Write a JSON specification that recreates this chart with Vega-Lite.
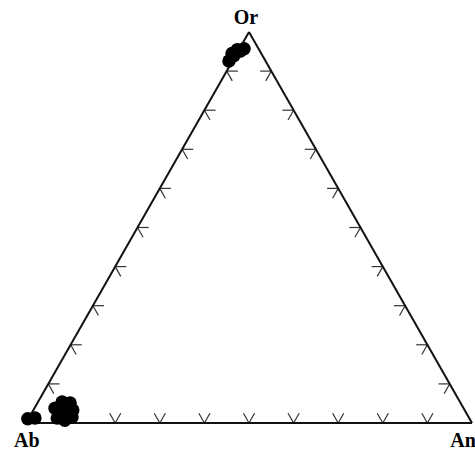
{
  "$schema": "https://vega.github.io/schema/vega-lite/v6.json",
  "width": 446,
  "height": 391,
  "autosize": {"type": "none"},
  "padding": {"left": 26, "top": 32, "right": 3, "bottom": 27},
  "background": "white",
  "config": {"view": {"stroke": null}},
  "datasets": {
    "edges": [
      {"x": 0, "y": 0, "x2": 1, "y2": 0},
      {"x": 1, "y": 0, "x2": 0.5, "y2": 1},
      {"x": 0.5, "y": 1, "x2": 0, "y2": 0}
    ],
    "ticks": [
      {"x": 0.1, "y": 0, "x2": 0.1125, "y2": 0.025}, {"x": 0.1, "y": 0, "x2": 0.0875, "y2": 0.025},
      {"x": 0.2, "y": 0, "x2": 0.2125, "y2": 0.025}, {"x": 0.2, "y": 0, "x2": 0.1875, "y2": 0.025},
      {"x": 0.3, "y": 0, "x2": 0.3125, "y2": 0.025}, {"x": 0.3, "y": 0, "x2": 0.2875, "y2": 0.025},
      {"x": 0.4, "y": 0, "x2": 0.4125, "y2": 0.025}, {"x": 0.4, "y": 0, "x2": 0.3875, "y2": 0.025},
      {"x": 0.5, "y": 0, "x2": 0.5125, "y2": 0.025}, {"x": 0.5, "y": 0, "x2": 0.4875, "y2": 0.025},
      {"x": 0.6, "y": 0, "x2": 0.6125, "y2": 0.025}, {"x": 0.6, "y": 0, "x2": 0.5875, "y2": 0.025},
      {"x": 0.7, "y": 0, "x2": 0.7125, "y2": 0.025}, {"x": 0.7, "y": 0, "x2": 0.6875, "y2": 0.025},
      {"x": 0.8, "y": 0, "x2": 0.8125, "y2": 0.025}, {"x": 0.8, "y": 0, "x2": 0.7875, "y2": 0.025},
      {"x": 0.9, "y": 0, "x2": 0.9125, "y2": 0.025}, {"x": 0.9, "y": 0, "x2": 0.8875, "y2": 0.025},
      {"x": 0.05, "y": 0.1, "x2": 0.075, "y2": 0.1}, {"x": 0.05, "y": 0.1, "x2": 0.0625, "y2": 0.075},
      {"x": 0.1, "y": 0.2, "x2": 0.125, "y2": 0.2}, {"x": 0.1, "y": 0.2, "x2": 0.1125, "y2": 0.175},
      {"x": 0.15, "y": 0.3, "x2": 0.175, "y2": 0.3}, {"x": 0.15, "y": 0.3, "x2": 0.1625, "y2": 0.275},
      {"x": 0.2, "y": 0.4, "x2": 0.225, "y2": 0.4}, {"x": 0.2, "y": 0.4, "x2": 0.2125, "y2": 0.375},
      {"x": 0.25, "y": 0.5, "x2": 0.275, "y2": 0.5}, {"x": 0.25, "y": 0.5, "x2": 0.2625, "y2": 0.475},
      {"x": 0.3, "y": 0.6, "x2": 0.325, "y2": 0.6}, {"x": 0.3, "y": 0.6, "x2": 0.3125, "y2": 0.575},
      {"x": 0.35, "y": 0.7, "x2": 0.375, "y2": 0.7}, {"x": 0.35, "y": 0.7, "x2": 0.3625, "y2": 0.675},
      {"x": 0.4, "y": 0.8, "x2": 0.425, "y2": 0.8}, {"x": 0.4, "y": 0.8, "x2": 0.4125, "y2": 0.775},
      {"x": 0.45, "y": 0.9, "x2": 0.475, "y2": 0.9}, {"x": 0.45, "y": 0.9, "x2": 0.4625, "y2": 0.875},
      {"x": 0.95, "y": 0.1, "x2": 0.925, "y2": 0.1}, {"x": 0.95, "y": 0.1, "x2": 0.9375, "y2": 0.075},
      {"x": 0.9, "y": 0.2, "x2": 0.875, "y2": 0.2}, {"x": 0.9, "y": 0.2, "x2": 0.8875, "y2": 0.175},
      {"x": 0.85, "y": 0.3, "x2": 0.825, "y2": 0.3}, {"x": 0.85, "y": 0.3, "x2": 0.8375, "y2": 0.275},
      {"x": 0.8, "y": 0.4, "x2": 0.775, "y2": 0.4}, {"x": 0.8, "y": 0.4, "x2": 0.7875, "y2": 0.375},
      {"x": 0.75, "y": 0.5, "x2": 0.725, "y2": 0.5}, {"x": 0.75, "y": 0.5, "x2": 0.7375, "y2": 0.475},
      {"x": 0.7, "y": 0.6, "x2": 0.675, "y2": 0.6}, {"x": 0.7, "y": 0.6, "x2": 0.6875, "y2": 0.575},
      {"x": 0.65, "y": 0.7, "x2": 0.625, "y2": 0.7}, {"x": 0.65, "y": 0.7, "x2": 0.6375, "y2": 0.675},
      {"x": 0.6, "y": 0.8, "x2": 0.575, "y2": 0.8}, {"x": 0.6, "y": 0.8, "x2": 0.5875, "y2": 0.775},
      {"x": 0.55, "y": 0.9, "x2": 0.525, "y2": 0.9}, {"x": 0.55, "y": 0.9, "x2": 0.5375, "y2": 0.875}
    ],
    "samples": [
      {"x": 0.455, "y": 0.926}, {"x": 0.466, "y": 0.939}, {"x": 0.480, "y": 0.951}, {"x": 0.489, "y": 0.957},
      {"x": 0.462, "y": 0.945}, {"x": 0.474, "y": 0.955},
      {"x": 0.004, "y": 0.011}, {"x": 0.020, "y": 0.013},
      {"x": 0.065, "y": 0.038}, {"x": 0.081, "y": 0.054}, {"x": 0.099, "y": 0.051}, {"x": 0.105, "y": 0.033},
      {"x": 0.070, "y": 0.013}, {"x": 0.087, "y": 0.007}, {"x": 0.103, "y": 0.015}, {"x": 0.085, "y": 0.028}
    ],
    "labels": [
      {"x": 0.493, "y": 1.035, "label": "Or"},
      {"x": 0.002, "y": -0.045, "label": "Ab"},
      {"x": 0.980, "y": -0.047, "label": "An"}
    ]
  },
  "layer": [
    {
      "data": {"name": "ticks"},
      "mark": {"type": "rule", "color": "#333333", "strokeWidth": 1.2},
      "encoding": {
        "x": {"field": "x", "type": "quantitative", "scale": {"domain": [0, 1], "nice": false, "zero": false}, "axis": null},
        "y": {"field": "y", "type": "quantitative", "scale": {"domain": [0, 1], "nice": false, "zero": false}, "axis": null},
        "x2": {"field": "x2"},
        "y2": {"field": "y2"}
      }
    },
    {
      "data": {"name": "edges"},
      "mark": {"type": "rule", "color": "#111111", "strokeWidth": 2},
      "encoding": {
        "x": {"field": "x", "type": "quantitative"},
        "y": {"field": "y", "type": "quantitative"},
        "x2": {"field": "x2"},
        "y2": {"field": "y2"}
      }
    },
    {
      "data": {"name": "samples"},
      "mark": {"type": "point", "shape": "circle", "filled": true, "color": "black", "opacity": 1, "size": 180},
      "encoding": {
        "x": {"field": "x", "type": "quantitative"},
        "y": {"field": "y", "type": "quantitative"}
      }
    },
    {
      "data": {"name": "labels"},
      "mark": {"type": "text", "font": "Liberation Serif", "fontWeight": "bold", "fontSize": 20, "color": "black", "baseline": "middle", "align": "center"},
      "encoding": {
        "x": {"field": "x", "type": "quantitative"},
        "y": {"field": "y", "type": "quantitative"},
        "text": {"field": "label"}
      }
    }
  ]
}
